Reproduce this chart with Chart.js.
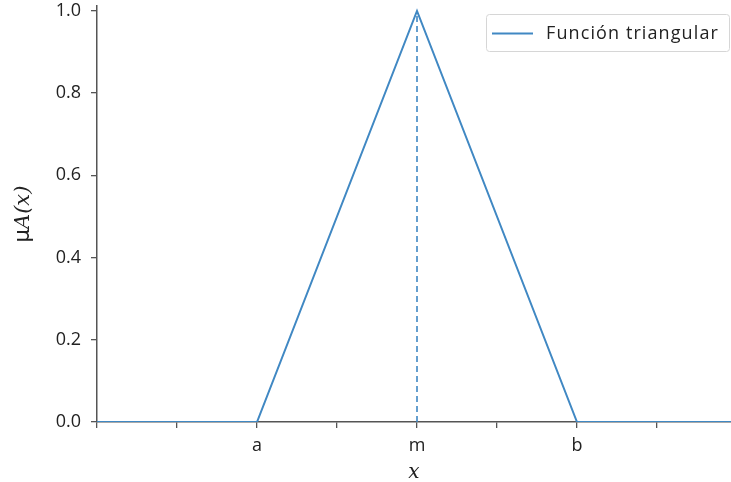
<!DOCTYPE html>
<html>
<head>
<meta charset="utf-8">
<script src="https://cdn.jsdelivr.net/npm/chart.js@4.4.1/dist/chart.umd.min.js"></script>
<style>
  html, body { margin: 0; padding: 0; background: #ffffff; }
  #wrap { width: 731px; height: 482px; }
</style>
</head>
<body>
<div id="wrap"><canvas id="tri_chart"></canvas></div>
<script>
// triangular membership function: points (x, mu)
const tri_x = [0, 2, 4, 6, 7.925];
const tri_mu = [0, 0, 1, 0, 0];
// vertical marker at the peak
const peak_x = [4, 4];
const peak_mu = [0, 1];
// x tick labels, one per integer position
const x_tick_labels = ["", "", "a", "", "m", "", "b", ""];
const y_ticks = [0, 0.2, 0.4, 0.6, 0.8, 1.0];

const line_color = "#4088c3";
const axis_color = "#555555";
const tick_font = { family: "Open Sans", size: 18 };

const tri_points = tri_x.map((x, i) => ({ x: x, y: tri_mu[i] }));
const peak_points = peak_x.map((x, i) => ({ x: x, y: peak_mu[i] }));

// framed legend in the upper right corner
const boxLegend = {
    id: "boxLegend",
    afterDraw(chart) {
        const ctx = chart.ctx;
        const ds = chart.data.datasets[0];
        const area = chart.chartArea;
        const w = 243, h = 37;
        const left = area.right - w - 2;
        const top = 14;
        ctx.save();
        ctx.fillStyle = "rgba(255,255,255,0.85)";
        ctx.strokeStyle = "#d6d6d6";
        ctx.lineWidth = 1;
        ctx.beginPath();
        ctx.roundRect(left + 0.5, top + 0.5, w, h, 3);
        ctx.fill();
        ctx.stroke();
        ctx.strokeStyle = ds.borderColor;
        ctx.lineWidth = 2;
        ctx.beginPath();
        ctx.moveTo(left + 6, top + h / 2 + 1);
        ctx.lineTo(left + 47, top + h / 2 + 1);
        ctx.stroke();
        ctx.fillStyle = "#222222";
        ctx.font = "18px 'Open Sans'";
        ctx.letterSpacing = "1.1px";
        ctx.textBaseline = "middle";
        ctx.fillText(ds.label, left + 60, top + h / 2 + 1);
        ctx.restore();
    }
};

// y axis title: upright mu followed by italic A(x)
const yTitle = {
    id: "yTitle",
    afterDraw(chart) {
        const ctx = chart.ctx;
        const area = chart.chartArea;
        const cy = (area.top + area.bottom) / 2;
        ctx.save();
        ctx.translate(29, cy);
        ctx.rotate(-Math.PI / 2);
        ctx.fillStyle = "#222222";
        ctx.textBaseline = "alphabetic";
        const f1 = "21px 'DejaVu Sans'";
        const f2 = "italic 21px 'DejaVu Serif'";
        ctx.font = f1;
        const w1 = ctx.measureText("μ").width;
        ctx.font = f2;
        const w2 = ctx.measureText("A(x)").width;
        const x0 = -(w1 + w2) / 2;
        ctx.font = f1;
        ctx.fillText("μ", x0, 0);
        ctx.font = f2;
        ctx.fillText("A(x)", x0 + w1, 0);
        ctx.restore();
    }
};

const config = {
    type: "line",
    data: {
        datasets: [
            {
                label: "Función triangular",
                data: tri_points,
                borderColor: line_color,
                borderWidth: 2,
                pointRadius: 0,
                tension: 0
            },
            {
                label: "m",
                data: peak_points,
                borderColor: line_color,
                borderWidth: 1.6,
                borderDash: [6, 4],
                pointRadius: 0
            }
        ]
    },
    options: {
        responsive: true,
        maintainAspectRatio: false,
        animation: false,
        layout: { padding: { top: 6, right: 0, left: 0, bottom: 0 } },
        plugins: {
            legend: { display: false },
            tooltip: { enabled: false }
        },
        scales: {
            x: {
                type: "linear",
                min: 0,
                max: 7.925,
                afterBuildTicks: (axis) => {
                    axis.ticks = x_tick_labels.map((_, i) => ({ value: i }));
                },
                afterFit: (axis) => {
                    axis.height = 60;
                    axis.paddingLeft = 0;
                    axis.paddingRight = 0;
                },
                ticks: {
                    callback: (v) => x_tick_labels[Math.round(v)],
                    color: "#222222",
                    font: tick_font,
                    padding: 7,
                    maxRotation: 0,
                    autoSkip: false
                },
                grid: {
                    drawOnChartArea: false,
                    drawTicks: true,
                    tickLength: 6,
                    color: axis_color,
                    lineWidth: 1.3
                },
                border: { display: true, color: axis_color, width: 1.5 },
                title: {
                    display: true,
                    text: "x",
                    color: "#222222",
                    font: { family: "DejaVu Serif", style: "italic", size: 20 },
                    padding: { top: 0, bottom: -3 }
                }
            },
            y: {
                type: "linear",
                min: 0,
                max: 1.012,
                afterBuildTicks: (axis) => {
                    axis.ticks = y_ticks.map((v) => ({ value: v }));
                },
                afterFit: (axis) => {
                    axis.width = 97;
                    axis.paddingTop = 0;
                    axis.paddingBottom = 0;
                },
                ticks: {
                    callback: (v) => v.toFixed(1),
                    color: "#222222",
                    font: tick_font,
                    padding: 10
                },
                grid: {
                    drawOnChartArea: false,
                    drawTicks: true,
                    tickLength: 6,
                    color: axis_color,
                    lineWidth: 1.3
                },
                border: { display: true, color: axis_color, width: 1.5 }
            }
        }
    },
    plugins: [boxLegend, yTitle]
};

const canvas = document.getElementById("tri_chart");
let tri_chart = new Chart(canvas, config);
</script>
</body>
</html>
